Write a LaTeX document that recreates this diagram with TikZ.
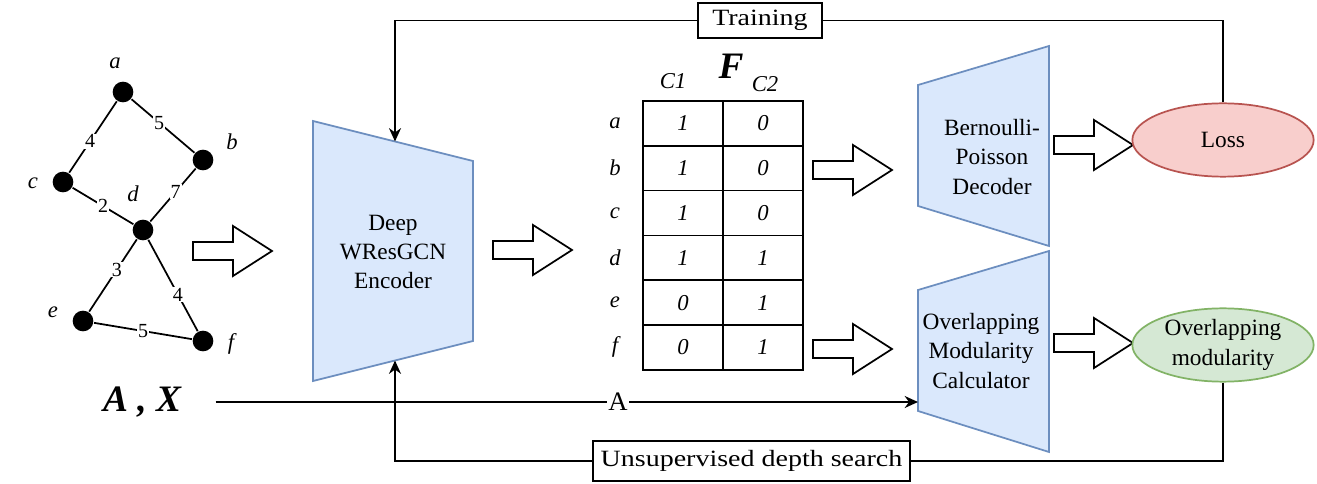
\documentclass[tikz,border=0pt]{standalone}
\usepackage{fontspec}
\setmainfont{Liberation Serif}
\newfontfamily\tagfont{Liberation Serif}[FakeStretch=1.2]
\usetikzlibrary{arrows.meta}
\usetikzlibrary{positioning}
\usetikzlibrary{shapes.geometric}
\definecolor{blockfill}{HTML}{DAE8FC}
\definecolor{blockline}{HTML}{6C8EBF}
\definecolor{lossfill}{HTML}{F8CECC}
\definecolor{lossline}{HTML}{B85450}
\definecolor{modfill}{HTML}{D5E8D4}
\definecolor{modline}{HTML}{82B366}
\tikzset{every picture/.style={line width=1.3pt},
vertex/.style={circle,fill=black,inner sep=0pt,minimum size=15.5pt},
vlabel/.style={font=\fontsize{17}{19}\selectfont\itshape},
weight/.style={fill=white,inner sep=0.6pt,font=\fontsize{15}{17}\selectfont},
block/.style={draw=blockline,fill=blockfill,line width=1.3pt},
blocktext/.style={align=center,font=\fontsize{17.5}{22}\selectfont},
hollow/.style={draw=black,fill=white,line width=1.3pt},
cell/.style={draw,minimum width=60pt,minimum height=33.6pt,inner sep=0pt,outer sep=0pt,font=\fontsize{17}{19}\selectfont\itshape},
oval/.style={ellipse,line width=1.3pt,inner sep=0pt,minimum width=136pt,minimum height=55pt,blocktext},
tag/.style={draw,fill=white,inner sep=2pt,font=\tagfont\fontsize{17.5}{20}\selectfont},
flow/.style={-{Stealth[length=10pt,width=9pt]}}}

\begin{document}
\begin{tikzpicture}[x=0.75pt,y=-0.75pt]
\useasboundingbox (0,0) rectangle (1317,484);

% input graph
\node[vertex] (a) at (123,92) {};
\node[vertex] (b) at (203,160) {};
\node[vertex] (c) at (63,182) {};
\node[vertex] (d) at (143,230) {};
\node[vertex] (e) at (83,321) {};
\node[vertex] (f) at (203,341) {};
\foreach \v/\lx/\ly in {a/115/63, b/232/142, c/33/183, d/133/194, e/53/312, f/231/344}
\node[vlabel] (l\v) at (\lx,\ly) {\v};
\draw (a) -- node[weight,pos=0.56] {4} (c);
\draw (a) -- node[weight,pos=0.44] {5} (b);
\draw (c) -- node[weight,pos=0.5] {2} (d);
\draw (d) -- node[weight,pos=0.56] {7} (b);
\draw (d) -- node[weight,pos=0.42] {3} (e);
\draw (d) -- node[weight,pos=0.6] {4} (f);
\draw (e) -- node[weight,pos=0.5] {5} (f);

% block arrows
\foreach \ax/\ay in {193/251, 493/250, 813/170, 813/349, 1054/145, 1054/343}
\draw[hollow] (\ax,\ay) ++(0,-9) -- ++(40,0) -- ++(0,-16) -- ++(39,25) -- ++(-39,25) -- ++(0,-16) -- ++(-40,0) -- cycle;

% encoder
\draw[block] (313,121) -- (473,161) -- (473,341) -- (313,381) -- cycle;
\node[blocktext] (enc) at (393,252) {Deep\\WResGCN\\Encoder};
\coordinate (encTop) at (395,141.5);
\coordinate (encBot) at (395,360.5);

% membership matrix
\node (fm) at (731,66) {\fontsize{28}{30}\selectfont\bfseries\itshape F};
\node[vlabel] (c1) at (673,81) {C1};
\node[vlabel] (c2) at (765,84) {C2};
\foreach \r/\u/\w [count=\i] in {a/1/0, b/1/0, c/1/0, d/1/1, e/0/1, f/0/1} {
\node[cell] (u\i) at (683,{101+44.8*(\i-0.5)}) {\u};
\node[cell] (w\i) [right=0pt of u\i] {\w};
\node[vlabel] (r\i) at (615,{101+44.8*(\i-0.5)}) {\r};
}

% decoder and calculator
\draw[block] (918,85) -- (1049,46) -- (1049,246) -- (918,206) -- cycle;
\node[blocktext] (dec) at (992,157) {Bernoulli-\\Poisson\\Decoder};
\draw[block] (918,290) -- (1049,251) -- (1049,452) -- (918,411) -- cycle;
\node[blocktext] (calc) at (981,351) {Overlapping\\Modularity\\Calculator};
\coordinate (calcIn) at (918,402);

\node[oval,draw=lossline,fill=lossfill] (loss) at (1223,140) {Loss};
\node[oval,draw=modline,fill=modfill] (ovm) at (1223,345) {Overlapping\\modularity};

% input line
\node (ax) at (142,402) {\fontsize{28}{30}\selectfont\bfseries\itshape A , X};
\draw[flow,shorten <=22pt] (ax.east) -- node[pos=0.59,fill=white,inner sep=1pt,font=\fontsize{20}{22}\selectfont] (alab) {A} (calcIn);

% feedback loops
\node[tag,minimum width=93pt,minimum height=26pt] (train) at (760,20.5) {Training};
\node[tag,minimum width=238pt,minimum height=30pt] (uds) at (751.5,461) {Unsupervised depth search};
\draw (loss.north) |- (train.east);
\draw[flow] (train.west) -| (encTop);
\draw (ovm.south) |- (uds.east);
\draw[flow] (uds.west) -| (encBot);
\end{tikzpicture}
\end{document}
